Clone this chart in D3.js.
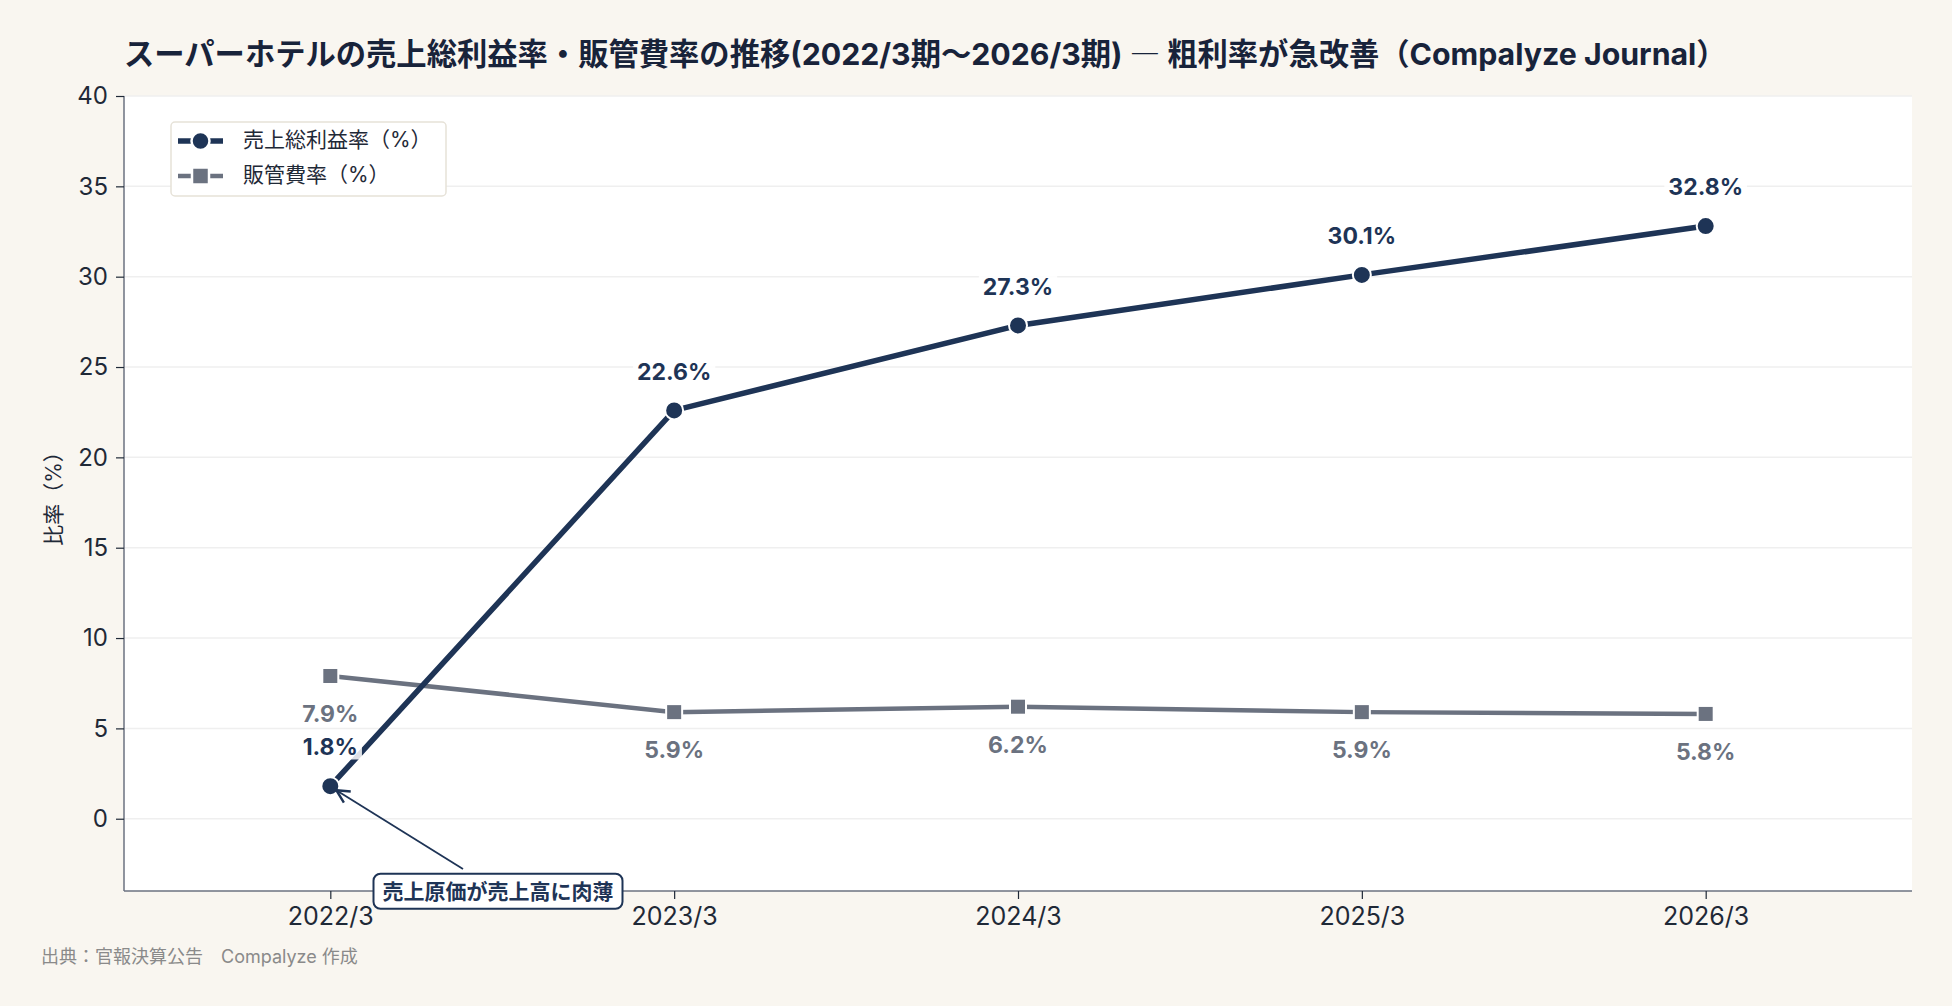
<!DOCTYPE html>
<html lang="ja">
<head>
<meta charset="utf-8">
<title>スーパーホテル 売上総利益率・販管費率</title>
<script src="https://d3js.org/d3.v7.min.js"></script>
<style>
  html, body { margin: 0; padding: 0; background: #f9f6f0; }
  svg { display: block; font-family: "Inter", "Noto Sans CJK JP", sans-serif; }
</style>
</head>
<body>
<div id="chart"></div>
<script>
// data
var periods = ["2022/3", "2023/3", "2024/3", "2025/3", "2026/3"];
var grossMargin = [1.8, 22.6, 27.3, 30.1, 32.8];
var sgaRatio = [7.9, 5.9, 6.2, 5.9, 5.8];
var yTicks = [0, 5, 10, 15, 20, 25, 30, 35, 40];
var seriesNames = ["売上総利益率（%）", "販管費率（%）"];

var W = 1952, H = 1006;
var m = {left: 124, right: 40, top: 96, bottom: 115};
var navy = "#1e3456", gray = "#6b7280";

var svg = d3.select("#chart").append("svg")
  .attr("width", W).attr("height", H);

svg.append("rect").attr("width", W).attr("height", H).attr("fill", "#f9f6f0");

var x = d3.scaleLinear().domain([-0.6, 4.6]).range([m.left, W - m.right]);
var y = d3.scaleLinear().domain([-4, 40]).range([H - m.bottom, m.top]);

// plot background
svg.append("rect")
  .attr("x", m.left).attr("y", m.top)
  .attr("width", W - m.left - m.right).attr("height", H - m.top - m.bottom)
  .attr("fill", "#ffffff");

// gridlines
svg.append("g").selectAll("line").data(yTicks).enter().append("line")
  .attr("x1", m.left).attr("x2", W - m.right)
  .attr("y1", function(d) { return y(d); }).attr("y2", function(d) { return y(d); })
  .attr("stroke", "#efefef").attr("stroke-width", 1.5);

// axes
var yAxis = svg.append("g").attr("transform", "translate(" + m.left + ",0)")
  .call(d3.axisLeft(y).tickValues(yTicks).tickSize(8).tickPadding(8));
var xAxis = svg.append("g").attr("transform", "translate(0," + (H - m.bottom) + ")")
  .call(d3.axisBottom(x).tickValues(d3.range(periods.length))
    .tickFormat(function(i) { return periods[i]; }).tickSize(8).tickPadding(8));
[yAxis, xAxis].forEach(function(a) {
  a.attr("font-family", null).attr("font-size", null);
  a.select(".domain").attr("stroke", gray).attr("stroke-width", 1.5);
  a.selectAll(".tick line").attr("stroke", "#1f2937").attr("stroke-width", 1.2);
  a.selectAll(".tick text").attr("fill", "#1f2937").style("font-size", "24px");
});
xAxis.selectAll(".tick text").style("font-size", "25px");
yAxis.select(".domain").attr("d", "M0," + m.top + "V" + (H - m.bottom));
xAxis.select(".domain").attr("d", "M" + m.left + ",0H" + (W - m.right));

// y label
svg.append("text")
  .attr("transform", "translate(55," + ((m.top + H - m.bottom) / 2) + ") rotate(-90)")
  .attr("text-anchor", "middle").attr("dominant-baseline", "middle")
  .attr("fill", "#1f2937").style("font-size", "21px")
  .text("比率（%）");

// lines
var line = d3.line().x(function(d, i) { return x(i); }).y(function(d) { return y(d); });

svg.append("path").datum(sgaRatio).attr("d", line)
  .attr("fill", "none").attr("stroke", gray).attr("stroke-width", 4.5);
svg.append("path").datum(grossMargin).attr("d", line)
  .attr("fill", "none").attr("stroke", navy).attr("stroke-width", 5.5);

svg.append("g").selectAll("rect").data(sgaRatio).enter().append("rect")
  .attr("x", function(d, i) { return x(i) - 8; }).attr("y", function(d) { return y(d) - 8; })
  .attr("width", 16).attr("height", 16)
  .attr("fill", gray).attr("stroke", "#ffffff").attr("stroke-width", 2);
svg.append("g").selectAll("circle").data(grossMargin).enter().append("circle")
  .attr("cx", function(d, i) { return x(i); }).attr("cy", function(d) { return y(d); })
  .attr("r", 9).attr("fill", navy).attr("stroke", "#ffffff").attr("stroke-width", 2);

// value labels with white halo
function labels(data, color, dy) {
  var g = svg.append("g");
  data.forEach(function(d, i) {
    var t = g.append("text")
      .attr("x", x(i)).attr("y", y(d) + dy)
      .attr("text-anchor", "middle").attr("dominant-baseline", "middle")
      .attr("fill", color).style("font-size", "23px").style("font-weight", "bold")
      .text(d.toFixed(1) + "%");
    var b = t.node().getBBox();
    g.insert("rect", function() { return t.node(); })
      .attr("x", b.x - 4).attr("y", b.y + 2).attr("width", b.width + 8).attr("height", b.height - 4)
      .attr("fill", "#ffffff").attr("opacity", 0.85);
  });
}
labels(grossMargin, navy, -37);
labels(sgaRatio, gray, 40);

// annotation
var ax = x(0), ay = y(grossMargin[0]);
var bx = 498, by = 893;
svg.append("defs").append("marker").attr("id", "arr")
  .attr("viewBox", "0 0 10 10").attr("refX", 9).attr("refY", 5)
  .attr("markerWidth", 9).attr("markerHeight", 9).attr("orient", "auto")
  .append("path").attr("d", "M1,1L9,5L1,9").attr("fill", "none").attr("stroke", navy).attr("stroke-width", 1.5);
svg.append("line")
  .attr("x1", bx - 35).attr("y1", by - 24).attr("x2", ax + 6).attr("y2", ay + 4)
  .attr("stroke", navy).attr("stroke-width", 1.8).attr("marker-end", "url(#arr)");
var at = svg.append("text").attr("x", bx).attr("y", by)
  .attr("text-anchor", "middle").attr("dominant-baseline", "middle")
  .attr("fill", navy).style("font-size", "21px").style("font-weight", "bold")
  .text("売上原価が売上高に肉薄");
var ab = at.node().getBBox();
svg.insert("rect", function() { return at.node(); })
  .attr("x", ab.x - 9).attr("y", ab.y - 5).attr("width", ab.width + 18).attr("height", ab.height + 10)
  .attr("rx", 7).attr("fill", "#ffffff").attr("stroke", navy).attr("stroke-width", 2);

// legend
var lg = svg.append("g").attr("transform", "translate(171,122)");
lg.append("rect").attr("width", 275).attr("height", 74).attr("rx", 4)
  .attr("fill", "#ffffff").attr("stroke", "#e6e2d8").attr("stroke-width", 1.5);
[[navy, "circle"], [gray, "square"]].forEach(function(s, i) {
  var yy = 19 + i * 35;
  lg.append("line").attr("x1", 7).attr("x2", 52).attr("y1", yy).attr("y2", yy)
    .attr("stroke", s[0]).attr("stroke-width", i ? 4.5 : 5.5);
  if (s[1] === "circle") {
    lg.append("circle").attr("cx", 29.5).attr("cy", yy).attr("r", 9).attr("fill", s[0]).attr("stroke", "#fff").attr("stroke-width", 2.5);
  } else {
    lg.append("rect").attr("x", 21).attr("y", yy - 8.5).attr("width", 17).attr("height", 17).attr("fill", s[0]).attr("stroke", "#fff").attr("stroke-width", 2.5);
  }
  lg.append("text").attr("x", 72).attr("y", yy).attr("dominant-baseline", "middle")
    .attr("fill", "#1f2937").style("font-size", "21px").text(seriesNames[i]);
});

// title
var title = svg.append("text").attr("x", 124).attr("y", 65)
  .attr("fill", "#18233a").style("font-size", "30.3px").style("font-weight", "bold");
title.append("tspan").text("スーパーホテルの売上総利益率・販管費率の推移(2022/3期〜2026/3期) ");
title.append("tspan").style("font-family", "'Noto Sans CJK JP'").style("font-weight", "normal").text("―");
title.append("tspan").text(" 粗利率が急改善（Compalyze Journal）");

// source
svg.append("text").attr("x", 41).attr("y", 963)
  .attr("fill", "#8a8a8a").style("font-size", "18px")
  .text("出典：官報決算公告　Compalyze 作成");
</script>
</body>
</html>
